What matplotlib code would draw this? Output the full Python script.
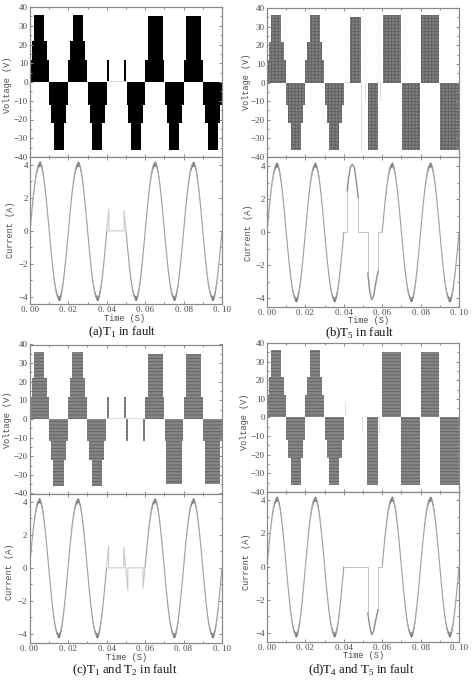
import numpy as np
import matplotlib
matplotlib.use("Agg")
import matplotlib.pyplot as plt
from matplotlib.ticker import MultipleLocator, FixedLocator

plt.rcParams['font.family'] = ['Liberation Serif', 'DejaVu Serif']
plt.rcParams['mathtext.fontset'] = 'custom'
plt.rcParams['mathtext.rm'] = 'Liberation Serif'
plt.rcParams['hatch.linewidth'] = 0.7

# ---- data (seconds, volts, amps) ------------------------------------------
healthy_first_two_cycles = [
    (0.0000, 0.0099, 12), (0.0011, 0.0089, 22), (0.0023, 0.0075, 36),
    (0.0101, 0.0198, -12), (0.0111, 0.0189, -22), (0.0123, 0.0177, -36),
    (0.0200, 0.0299, 12), (0.0210, 0.0288, 22), (0.0222, 0.0276, 36),
    (0.0300, 0.0399, -12), (0.0311, 0.0389, -22), (0.0323, 0.0377, -36),
]
volt_a = [
    (0.0401, 0.0413, 12), (0.0490, 0.0501, 12),
    (0.0503, 0.0600, -12), (0.0512, 0.0591, -22), (0.0524, 0.0577, -36),
    (0.0600, 0.0700, 12), (0.0613, 0.0691, 35),
    (0.0703, 0.0800, -12), (0.0713, 0.0791, -22), (0.0725, 0.0778, -36),
    (0.0800, 0.0900, 12), (0.0813, 0.0891, 35),
    (0.0903, 0.1000, -12), (0.0913, 0.0990, -22), (0.0925, 0.0979, -36),
]
volt_b = [
    (0.0432, 0.0490, 35), (0.0524, 0.0578, -36),
    (0.0603, 0.0698, 36), (0.0701, 0.0798, -36),
    (0.0802, 0.0897, 36), (0.0903, 0.1000, -36),
]
volt_c = [
    (0.0402, 0.0413, 12), (0.0491, 0.0501, 12),
    (0.0501, 0.0511, -12), (0.0589, 0.0599, -12),
    (0.0600, 0.0700, 12), (0.0613, 0.0691, 35),
    (0.0702, 0.0799, -12), (0.0711, 0.0790, -35),
    (0.0800, 0.0900, 12), (0.0812, 0.0890, 35),
    (0.0903, 0.1000, -12), (0.0912, 0.0990, -35),
]
volt_d = [
    (0.0523, 0.0577, -36),
    (0.0600, 0.0698, 35), (0.0700, 0.0797, -36),
    (0.0800, 0.0897, 35), (0.0900, 0.1000, -36),
]
faint_a = [(0.0401, 0.0500, 0.4)]
faint_b = [(0.0400, 0.0432, 0.4), (0.0490, 0.0495, -36), (0.0513, 0.0517, -10), (0.0578, 0.0600, 0.4), (0.0589, 0.0593, -10)]
faint_c = [(0.0401, 0.0600, 0.4)]
faint_d = [(0.0405, 0.0410, 8), (0.0400, 0.0523, 0.4), (0.0497, 0.0502, -8), (0.0584, 0.0589, -9)]

half_wave = [0.0, 0.64, 1.27, 1.86, 2.41, 2.90, 3.32, 3.65, 3.90, 4.05, 4.10,
             4.05, 3.90, 3.65, 3.32, 2.90, 2.41, 1.86, 1.27, 0.64, 0.0]
half_ripple = [0.01, 0.02, 0.02, 0.03, 0.04, 0.05, 0.07, 0.09, 0.12, 0.14, 0.15,
               0.14, 0.12, 0.09, 0.07, 0.05, 0.04, 0.03, 0.02, 0.02, 0.01]
half_step = 0.0005

signs_a = {0: 1, 1: -1, 2: 1, 3: -1, 5: -1, 6: 1, 7: -1, 8: 1, 9: -1}
signs_b = {0: 1, 1: -1, 2: 1, 3: -1, 6: 1, 7: -1, 8: 1, 9: -1}
signs_c = {0: 1, 1: -1, 2: 1, 3: -1, 6: 1, 7: -1, 8: 1, 9: -1}
signs_d = {0: 1, 1: -1, 2: 1, 3: -1, 6: 1, 7: -1, 8: 1, 9: -1}

fault_a = [(0.0400, 0.0), (0.0411, 1.32), (0.0411, 0.0), (0.0490, 0.0), (0.0490, 1.25), (0.0500, 0.0)]
fault_b = [(0.0400, 0.0), (0.0418, 0.0), (0.0418, 2.5), (0.0418, 2.5)]
fault_b2 = [(0.0475, 2.1), (0.0475, 0.0), (0.0525, 0.0), (0.0525, -2.5)]
fault_b3 = [(0.0578, -2.4), (0.0578, 0.0), (0.0600, 0.0)]
fault_c = [(0.0400, 0.0), (0.0411, 1.32), (0.0411, 0.0), (0.0490, 0.0), (0.0490, 1.25), (0.0500, 0.0),
           (0.0511, -1.35), (0.0511, 0.0), (0.0590, 0.0), (0.0590, -1.25), (0.0600, 0.0)]
fault_d = [(0.0400, 0.0), (0.0525, 0.0), (0.0525, -2.8)]
fault_d2 = [(0.0578, -2.6), (0.0578, 0.0), (0.0600, 0.0)]

arc_b_pos = [(0.0418, 2.5), (0.0425, 3.3), (0.0435, 3.95), (0.0445, 4.1),
             (0.0455, 3.9), (0.0465, 3.1), (0.0475, 2.1)]
arc_b_neg = [(0.0525, -2.5), (0.0535, -3.6), (0.0545, -4.1), (0.0555, -3.9),
             (0.0565, -3.2), (0.0578, -2.4)]
arc_d_neg = [(0.0525, -2.8), (0.0535, -3.6), (0.0545, -4.1), (0.0555, -3.9),
             (0.0565, -3.3), (0.0578, -2.6)]

x_ticks = [0.00, 0.02, 0.04, 0.06, 0.08, 0.10]
x_labels = ['0. 00', '0. 02', '0. 04', '0. 06', '0. 08', '0. 10']
v_ticks = [-40, -30, -20, -10, 0, 10, 20, 30, 40]
i_ticks = [-4, -2, 0, 2, 4]

W, H = 474, 681
FG = '#4a4a4a'
SPINE = '#8a8a8a'
MONO = ['Liberation Mono', 'DejaVu Sans Mono']

panels = [
    dict(box=(30, 222, 7, 157, 304), i4=(165, 296.7), volt=volt_a, faint=faint_a, signs=signs_a,
         fault=[fault_a], arcs=[],
         face='#000000', hatch=None, hcol='#000000', cap=r'(a)T$_{1}$ in fault', capy=332, capx=122.5,
         xlx=124, xly=318, vlab=(8, 85), ilab=(11, 230)),
    dict(box=(267, 459, 8, 157, 307), i4=(166, 298), volt=volt_b, faint=faint_b, signs=signs_b,
         fault=[fault_b, fault_b2, fault_b3], arcs=[arc_b_pos, arc_b_neg],
         face='#808080', hatch='+++++', hcol='#636363', cap=r'(b)T$_{5}$ in fault', capy=333, capx=360,
         xlx=368, xly=320.7, vlab=(247, 82), ilab=(248, 233)),
    dict(box=(29.5, 222, 344.5, 493.5, 642.7), i4=(501.7, 634), volt=volt_c, faint=faint_c, signs=signs_c,
         fault=[fault_c], arcs=[],
         face='#868686', hatch='-----', hcol='#636363', cap=r'(c)T$_{1}$ and T$_{2}$ in fault', capy=670.7, capx=124.7,
         xlx=126.7, xly=657.7, vlab=(7.5, 420), ilab=(10, 572)),
    dict(box=(267, 459, 343, 492, 642), i4=(500, 633), volt=volt_d, faint=faint_d, signs=signs_d,
         fault=[fault_d, fault_d2], arcs=[arc_d_neg],
         face='#868686', hatch='-----', hcol='#636363', cap=r'(d)T$_{4}$ and T$_{5}$ in fault', capy=670.7, capx=361.3,
         xlx=363.7, xly=655.7, vlab=(244, 422), ilab=(247, 562)),
]

fig = plt.figure(figsize=(W / 100, H / 100), dpi=100, facecolor='white')


def make_axes(x0, x1, ytop, ybot):
    ax = fig.add_axes([x0 / W, 1 - ybot / H, (x1 - x0) / W, (ybot - ytop) / H])
    ax.set_xlim(0, 0.1)
    for s in ax.spines.values():
        s.set_color(SPINE)
        s.set_linewidth(0.9)
    ax.xaxis.set_major_locator(FixedLocator(x_ticks))
    ax.xaxis.set_minor_locator(MultipleLocator(0.01))
    ax.tick_params(which='both', direction='in', top=True, right=True, color=SPINE, width=0.7,
                   labelsize=6.5, labelcolor=FG, pad=1.5)
    ax.tick_params(which='major', length=2.5)
    ax.tick_params(which='minor', length=1.5)
    return ax


for p in panels:
    x0, x1, ytop, ymid, ybot = p['box']

    # voltage
    av = make_axes(x0, x1, ytop, ymid)
    av.set_ylim(-40, 40)
    av.set_yticks(v_ticks)
    av.yaxis.set_minor_locator(MultipleLocator(5))
    av.tick_params(labelbottom=False)
    for t0, t1, lv in healthy_first_two_cycles + p['volt']:
        av.bar(t0, lv, width=t1 - t0, align='edge', color=p['face'], edgecolor=p['hcol'],
               hatch=p['hatch'], linewidth=0)
    for t0, t1, lv in p['faint']:
        av.bar(t0, lv, width=t1 - t0, align='edge', color='#dddddd', linewidth=0)

    # current
    ai = make_axes(x0, x1, ymid, ybot)
    top4, bot4 = p['i4']
    per = (bot4 - top4) / 8
    zero = (top4 + bot4) / 2
    ai.set_ylim(-(ybot - zero) / per, (zero - ymid) / per)
    ai.set_yticks(i_ticks)
    ai.yaxis.set_minor_locator(MultipleLocator(1))
    ai.set_xticks(x_ticks, x_labels)
    for k, sgn in p['signs'].items():
        offs = np.arange(len(half_wave)) * half_step
        tt = k * 0.01 + offs
        ii = sgn * np.array(half_wave)
        rr = np.array(half_ripple)
        ai.plot(tt, ii, color='#a0a0a0', lw=0.8, solid_capstyle='butt')
        ai.fill_between(tt, ii - rr, ii + rr, color='#707070', linewidth=0)
    for seg in p['fault']:
        ai.plot([q[0] for q in seg], [q[1] for q in seg], color='#c4c4c4', lw=0.7)
    for seg in p['arcs']:
        ai.plot([q[0] for q in seg], [q[1] for q in seg], color='#8c8c8c', lw=1.0)

    fig.text(p['xlx'] / W, 1 - p['xly'] / H, 'Time (S)', fontsize=6.2, color=FG,
             family=MONO, ha='center', va='center')
    fig.text(p['vlab'][0] / W, 1 - p['vlab'][1] / H, 'Voltage (V)', fontsize=6.2, color=FG,
             family=MONO, rotation=90, ha='center', va='center')
    fig.text(p['ilab'][0] / W, 1 - p['ilab'][1] / H, 'Current (A)', fontsize=6.2, color=FG,
             family=MONO, rotation=90, ha='center', va='center')
    fig.text(p['capx'] / W, 1 - p['capy'] / H, p['cap'], fontsize=9.2, color='#111111',
             ha='center', va='center')

fig.savefig('out.png', dpi=100, facecolor='white')
